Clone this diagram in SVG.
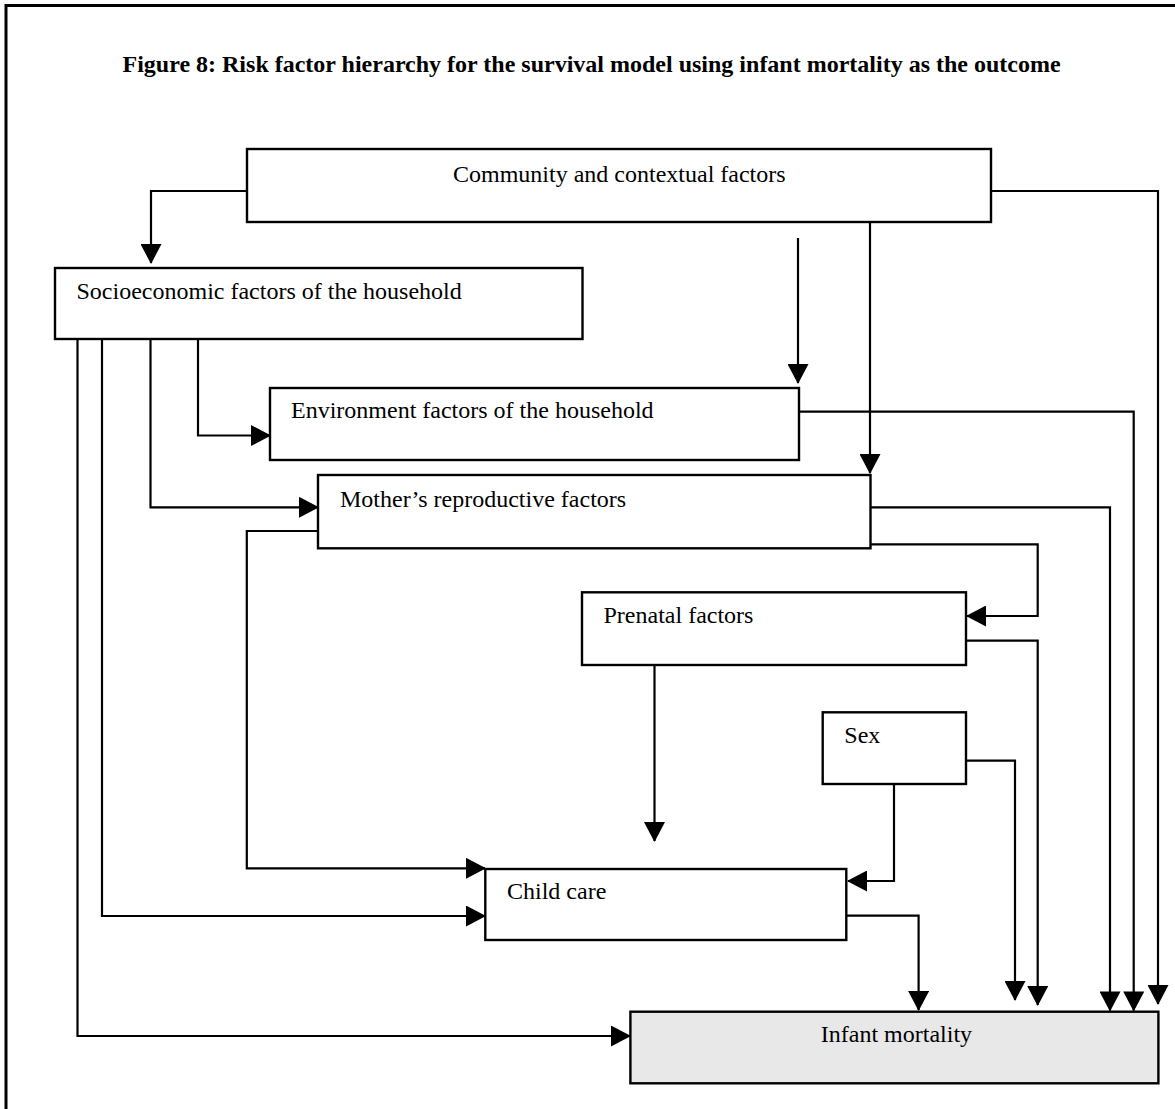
<svg xmlns="http://www.w3.org/2000/svg" width="1175" height="1109" viewBox="0 0 1175 1109">
<style>
.box{fill:#fff;stroke:#000;stroke-width:2.4}
.lbl{font-family:"Liberation Serif","Times New Roman",serif;font-size:24px;fill:#000}
.title{font-family:"Liberation Serif","Times New Roman",serif;font-size:24px;font-weight:bold;fill:#000}
.c{fill:none;stroke:#000;stroke-width:2.2}
.arr{marker-end:url(#ah)}
</style>
<defs>
<marker id="ah" markerUnits="userSpaceOnUse" markerWidth="21" markerHeight="21" viewBox="0 0 20 21" refX="19" refY="10.5" orient="auto">
<path d="M0,0 L20,10.5 L0,21 z" fill="#000"/>
</marker>
</defs>
<rect width="1175" height="1109" fill="#fff"/>
<path d="M6,1115 V5.5 H1180" fill="none" stroke="#000" stroke-width="3"/>
<text class="title" x="122.5" y="72">Figure 8: Risk factor hierarchy for the survival model using infant mortality as the outcome</text>

<g id="connectors">
<path class="c arr" d="M247,191 H151 V263"/>
<path class="c arr" d="M991,191 H1158 V1004"/>
<path class="c arr" d="M798,238 V383"/>
<path class="c arr" d="M870,208 V473"/>
<path class="c arr" d="M198,339 V435.5 H270"/>
<path class="c arr" d="M150.5,339 V507.3 H318"/>
<path class="c arr" d="M102,339 V916 H485"/>
<path class="c arr" d="M77.5,339 V1036 H630"/>
<path class="c arr" d="M799,411.7 H1133.7 V1010.5"/>
<path class="c arr" d="M870.5,507.3 H1110 V1010.5"/>
<path class="c arr" d="M870.5,544.3 H1037.7 V616 H967"/>
<path class="c arr" d="M966,640.7 H1037.7 V1005"/>
<path class="c arr" d="M654.5,665 V841"/>
<path class="c arr" d="M318,531 H246.8 V868.3 H485"/>
<path class="c arr" d="M894,784 V881 H848"/>
<path class="c arr" d="M966,760.7 H1015 V1000"/>
<path class="c arr" d="M846,915.7 H918.6 V1010"/>
</g>

<g id="community">
<rect class="box" x="247" y="149" width="744" height="73"/>
<text class="lbl" x="453" y="182">Community and contextual factors</text>
</g>
<g id="socioeconomic">
<rect class="box" x="55" y="268" width="527.5" height="71"/>
<text class="lbl" x="76.5" y="299">Socioeconomic factors of the household</text>
</g>
<g id="environment">
<rect class="box" x="270" y="388" width="529" height="72"/>
<text class="lbl" x="291" y="418">Environment factors of the household</text>
</g>
<g id="mother">
<rect class="box" x="318" y="475" width="552.5" height="73.3"/>
<text class="lbl" x="340" y="506.5">Mother’s reproductive factors</text>
</g>
<g id="prenatal">
<rect class="box" x="582" y="592.3" width="384" height="72.7"/>
<text class="lbl" x="603.5" y="623">Prenatal factors</text>
</g>
<g id="sex">
<rect class="box" x="822.7" y="712.3" width="143.3" height="71.7"/>
<text class="lbl" x="844.3" y="743">Sex</text>
</g>
<g id="childcare">
<rect class="box" x="485.3" y="869" width="361" height="71"/>
<text class="lbl" x="507" y="899">Child care</text>
</g>
<g id="infant">
<rect class="box" x="630.4" y="1011.7" width="528" height="71.6" style="fill:#e8e8e8"/>
<text class="lbl" x="820.8" y="1041.7">Infant mortality</text>
</g>
</svg>
